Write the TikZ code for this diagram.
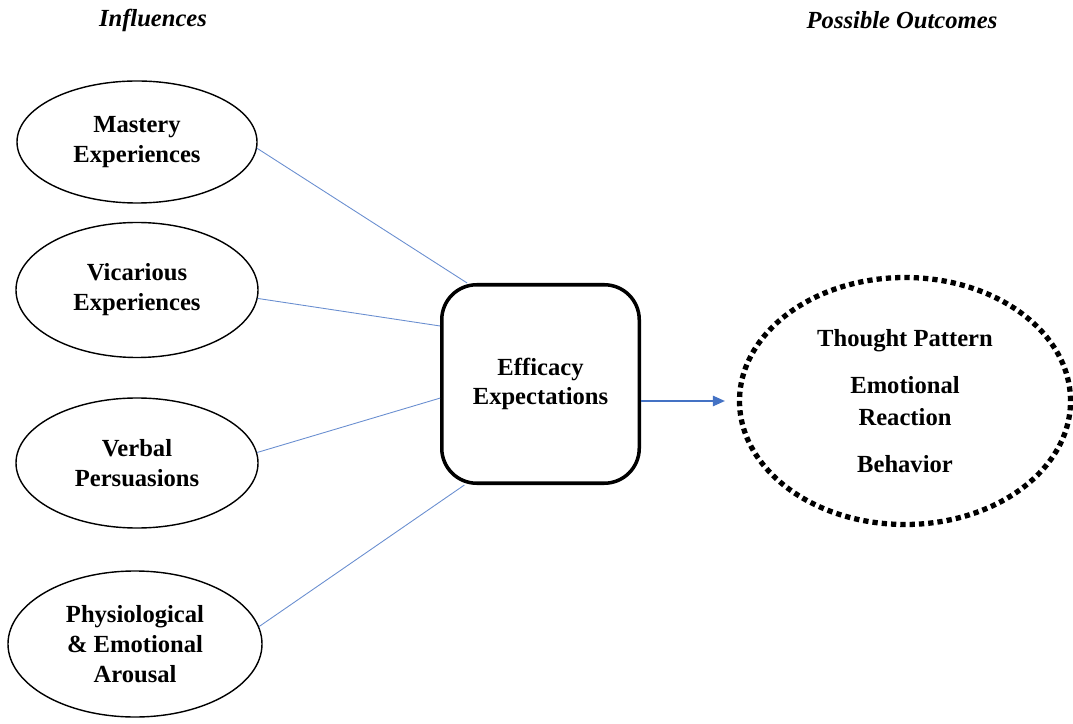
\documentclass[tikz,border=0pt]{standalone}
\usepackage{fontspec}
\setmainfont{Liberation Serif}
\usetikzlibrary{arrows.meta,shapes.geometric}

\definecolor{linkblue}{RGB}{68,114,196}

\tikzset{
  infl/.style={draw, ellipse, line width=0.8pt, inner sep=0pt, align=center,
    font=\fontsize{14}{17}\selectfont\bfseries},
  effbox/.style={draw, rectangle, rounded corners=0.7cm, line width=2pt,
    minimum width=3.95cm, minimum height=3.97cm, align=center,
    font=\fontsize{14}{17}\selectfont\bfseries},
  outc/.style={draw, ellipse, line width=3pt, dash pattern=on 3pt off 2.3pt,
    minimum width=6.62cm, minimum height=4.94cm, inner sep=0pt, align=center,
    font=\fontsize{14}{18}\selectfont\bfseries},
  link/.style={draw=linkblue!80, line width=0.5pt},
  flow/.style={draw=linkblue, line width=0.7pt, -{Triangle[length=2.4mm,width=2.1mm]}}
}

\begin{document}
\begin{tikzpicture}
\useasboundingbox (0,0) rectangle (21.46,14.46);

% Column titles
\node (tin) at (3.06,14.06) {\fontsize{14}{17}\selectfont\bfseries\itshape Influences};
\node (tout) at (18.04,14.06) {\fontsize{14}{17}\selectfont\bfseries\itshape Possible Outcomes};

% Influences
\node[infl, minimum width=4.80cm, minimum height=2.44cm] (mast) at (2.74,11.62) {Mastery\\Experiences};
\node[infl, minimum width=4.84cm, minimum height=2.70cm] (vica) at (2.74,8.66) {Vicarious\\Experiences};
\node[infl, minimum width=4.84cm, minimum height=2.60cm] (verb) at (2.74,5.20) {Verbal\\Persuasions};
\node[infl, minimum width=5.08cm, minimum height=2.92cm] (phys) at (2.70,1.58) {Physiological\\\& Emotional\\Arousal};

% Efficacy expectations
\node[effbox] (eff) at (10.81,6.78) {Efficacy\\Expectations};

% Possible outcomes
\node[outc] (outc) at (18.10,6.44) {Thought Pattern\\[9pt]Emotional\\Reaction\\[9pt]Behavior};

% Links
\draw[link] (mast.-3) -- (eff.126);
\draw[link] (vica.-4) -- (eff.150);
\draw[link] (verb.5) -- (eff.188);
\draw[link] (phys.8) -- (eff.233);

\draw[flow] (eff.east |- outc.west) -- ([xshift=-0.24cm]outc.west);

\end{tikzpicture}
\end{document}
